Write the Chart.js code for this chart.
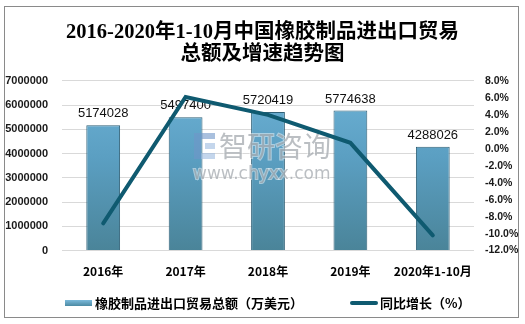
<!DOCTYPE html>
<html>
<head>
<meta charset="utf-8">
<script src="https://cdn.jsdelivr.net/npm/chart.js@4.4.1/dist/chart.umd.min.js"></script>
<style>
  html, body { margin: 0; padding: 0; background: #ffffff; }
  #wrap { width: 525px; height: 324px; }
</style>
</head>
<body>
<div id="wrap"><canvas id="c" width="525" height="324"></canvas></div>
<script>
// Categories and series
const categories = ['2016年', '2017年', '2018年', '2019年', '2020年1-10月'];
const tradeTotal = [5174028, 5497400, 5720419, 5774638, 4288026];   // 万美元
const growthRate = [-8.8, 6.1, 4.0, 0.7, -10.2];                      // %
const titleLines = ['2016-2020年1-10月中国橡胶制品进出口贸易', '总额及增速趋势图'];
const seriesNames = ['橡胶制品进出口贸易总额（万美元）', '同比增长（%）'];

const CJK = '"Noto Sans CJK SC", "Liberation Sans", sans-serif';
const LINE_COLOR = '#0f5a70';

function barGradient(ctx, area) {
  const g = ctx.createLinearGradient(0, area.top, 0, area.bottom);
  g.addColorStop(0, '#6db2d6');
  g.addColorStop(0.45, '#5b9fc2');
  g.addColorStop(1, '#4a8499');
  return g;
}

// Frame, value labels, watermark and legend
const decor = {
  id: 'decor',
  beforeDraw(chart) {
    const c = chart.ctx;
    c.save();
    c.fillStyle = '#ffffff';
    c.fillRect(0, 0, chart.width, chart.height);
    c.strokeStyle = '#8a8a8a';
    c.lineWidth = 1;
    c.strokeRect(4.5, 6.5, 514, 311);
    c.restore();
  },
  afterDatasetDraw(chart, args) {
    if (args.index !== 0) return;
    const c = chart.ctx;
    const meta = chart.getDatasetMeta(0);
    c.save();
    c.font = '13px "Liberation Sans", sans-serif';
    c.fillStyle = '#111111';
    c.textAlign = 'center';
    c.textBaseline = 'bottom';
    meta.data.forEach((bar, i) => {
      c.fillText(String(tradeTotal[i]), bar.x, bar.y - 5);
    });
    // watermark
    c.globalAlpha = 0.6;
    c.textAlign = 'left';
    c.textBaseline = 'middle';
    c.strokeStyle = 'rgba(255,255,255,0.8)';
    c.lineWidth = 2;
    c.font = '28px ' + CJK;
    c.strokeText('智研咨询', 219, 146);
    c.fillStyle = '#8d949b';
    c.fillText('智研咨询', 219, 146);
    c.font = '17px "DejaVu Sans", sans-serif';
    c.strokeText('www.chyxx.com', 193, 175);
    c.fillText('www.chyxx.com', 193, 175);
    // logo block
    c.fillStyle = '#6f96c8';
    c.fillRect(194, 133, 7, 26);
    c.fillRect(201, 133, 14, 6);
    c.fillStyle = '#9dbbe0';
    c.fillRect(205, 143, 10, 6);
    c.fillRect(201, 153, 14, 6);
    c.restore();
  },
  afterDraw(chart) {
    const c = chart.ctx;
    c.save();
    const y = 303;
    c.font = 'bold 13px ' + CJK;
    c.textBaseline = 'middle';
    c.textAlign = 'left';
    // bar series swatch
    let x = 65;
    const g = c.createLinearGradient(0, y - 3, 0, y + 3);
    g.addColorStop(0, '#7cbadb');
    g.addColorStop(1, '#4b8aa3');
    c.fillStyle = g;
    c.fillRect(x, y - 3, 27, 6);
    c.fillStyle = '#000000';
    c.fillText(seriesNames[0], x + 30, y);
    // line series swatch
    x = 350;
    c.strokeStyle = LINE_COLOR;
    c.lineWidth = 4;
    c.lineCap = 'round';
    c.beginPath();
    c.moveTo(x + 2, y);
    c.lineTo(x + 26, y);
    c.stroke();
    c.fillStyle = '#000000';
    c.fillText(seriesNames[1], x + 30, y);
    c.restore();
  }
};

new Chart(document.getElementById('c'), {
  data: {
    labels: categories,
    datasets: [
      {
        type: 'bar',
        label: seriesNames[0],
        data: tradeTotal,
        yAxisID: 'y',
        order: 2,
        backgroundColor(ctx) {
          const area = ctx.chart.chartArea;
          if (!area) return '#5b9fc2';
          return barGradient(ctx.chart.ctx, area);
        },
        borderColor: '#2f6077',
        borderWidth: 1,
        barPercentage: 0.41,
        categoryPercentage: 1
      },
      {
        type: 'line',
        label: seriesNames[1],
        data: growthRate,
        yAxisID: 'y1',
        order: 1,
        borderColor: LINE_COLOR,
        borderWidth: 4,
        borderCapStyle: 'round',
        pointRadius: 0,
        tension: 0,
        fill: false
      }
    ]
  },
  options: {
    responsive: false,
    animation: false,
    devicePixelRatio: 1,
    layout: { padding: { top: 8, left: 4, right: 4, bottom: 31 } },
    plugins: {
      legend: { display: false },
      tooltip: { enabled: false },
      title: {
        display: true,
        text: titleLines,
        color: '#000000',
        font: { family: '"Liberation Serif", "Noto Sans CJK SC", serif', size: 20.5, weight: 'bold', lineHeight: 1.07 },
        padding: { top: 14, bottom: 15 }
      }
    },
    scales: {
      x: {
        grid: { display: false, drawTicks: false },
        border: { display: false },
        ticks: {
          padding: 14,
          autoSkip: false,
          maxRotation: 0,
          minRotation: 0,
          color: '#000000',
          font: { family: CJK, size: 12, weight: 'bold' }
        }
      },
      y: {
        position: 'left',
        min: 0,
        max: 7000000,
        afterFit(s) { s.width = 58; },
        grid: { color: '#d9d9d9', drawTicks: false, lineWidth: 1 },
        border: { display: false },
        ticks: {
          stepSize: 1000000,
          autoSkip: false,
          padding: 14,
          color: '#1a1a1a',
          font: { family: '"Liberation Sans", sans-serif', size: 11, weight: 'bold' },
          callback: v => String(v)
        }
      },
      y1: {
        position: 'right',
        min: -12,
        max: 8,
        afterFit(s) { s.width = 47; },
        grid: { display: false, drawTicks: false },
        border: { display: false },
        ticks: {
          stepSize: 2,
          autoSkip: false,
          padding: 11,
          color: '#1a1a1a',
          font: { family: '"Liberation Sans", sans-serif', size: 10.5, weight: 'bold' },
          callback: v => Number(v).toFixed(1) + '%'
        }
      }
    }
  },
  plugins: [decor]
});
</script>
</body>
</html>
